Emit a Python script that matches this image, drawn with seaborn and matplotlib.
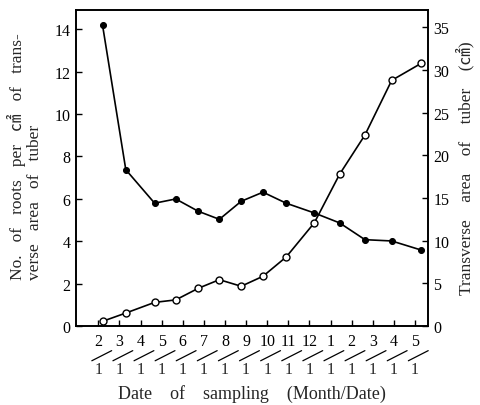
import matplotlib
matplotlib.use("Agg")
import matplotlib.pyplot as plt
import matplotlib.transforms as mtransforms
from matplotlib.lines import Line2D
import seaborn as sns
import pandas as pd

# Month axis runs Feb of the first season through May of the next
tick_months = [2, 3, 4, 5, 6, 7, 8, 9, 10, 11, 12, 1, 2, 3, 4, 5]
tick_day = "1"

# Sampling dates (month/day), in chronological order
sampling_dates = ["2/7", "3/10", "4/21", "5/21", "6/23", "7/23", "8/24",
                  "9/25", "10/28", "12/8", "1/14", "2/20", "3/28", "5/10"]

# No. of roots per cm2 of transverse area (left axis, filled circles)
roots_per_cm2 = [14.17, 7.37, 5.79, 5.99, 5.41, 5.03, 5.88,
                 6.31, 5.79, 5.33, 4.86, 4.07, 4.01, 3.58]

# Transverse area of tuber, cm2 (right axis, open circles)
transverse_area = [0.55, 1.52, 2.77, 3.06, 4.42, 5.43, 4.66,
                   5.83, 8.09, 12.1, 17.8, 22.4, 28.8, 30.8]


def date_positions(dates, months):
    """Place each m/d date on the month axis, walking forward in time."""
    pos, start = [], 0
    for d in dates:
        m, day = (int(v) for v in d.split("/"))
        idx = months.index(m, start)
        start = idx
        pos.append(idx + (day - 1) / 30.0)
    return pos


df = pd.DataFrame({
    "pos": date_positions(sampling_dates, tick_months),
    "roots": roots_per_cm2,
    "area": transverse_area,
})

sns.set_style("ticks")
plt.rcParams["font.family"] = ["Liberation Serif", "Noto Sans CJK JP"]
plt.rcParams["font.size"] = 11

fig = plt.figure(figsize=(4.8, 4.06), dpi=100)
ax = fig.add_axes([76 / 480, 1 - 327 / 406, (428 - 76) / 480, (327 - 11) / 406])
ax2 = ax.twinx()

sns.lineplot(data=df, x="pos", y="roots", ax=ax, color="black", lw=1.2,
             marker="o", markersize=4.3, markerfacecolor="black",
             markeredgecolor="black")
sns.lineplot(data=df, x="pos", y="area", ax=ax2, color="black", lw=1.2,
             marker="o", markersize=5, markerfacecolor="white",
             markeredgecolor="black", markeredgewidth=1.0)

ax.set_xlim(-1.06, 15.62)
ax.set_ylim(0, 14.9)
ax2.set_ylim(0, 37.05)

ax.set_yticks(range(0, 15, 2))
ax2.set_yticks(range(0, 36, 5))
ax.set_xticks(range(len(tick_months)))
ax.set_xticklabels([str(m) for m in tick_months])

for a in (ax, ax2):
    for s in a.spines.values():
        s.set_linewidth(1.2)
        s.set_color("black")
    a.set_xlabel("")
    a.set_ylabel("")

ax.tick_params(axis="y", direction="in", length=4, width=1, pad=4,
               labelsize=11.5, colors="black")
ax.tick_params(axis="x", direction="in", length=4, width=1, pad=5,
               labelsize=11.5, colors="black")
ax2.tick_params(axis="y", direction="in", length=4, width=1, pad=4,
                labelsize=11.5, colors="black")

# Month/date separator slash and day number under each month tick
trans = mtransforms.blended_transform_factory(ax.transData, ax.transAxes)
for i in range(len(tick_months)):
    ax.add_line(Line2D([i - 0.31, i + 0.63], [-0.11, -0.078],
                       transform=trans, color="black", lw=0.9,
                       clip_on=False))
    ax.text(i, -0.137, tick_day, transform=trans, ha="center", va="center",
            fontsize=11.5)

fig.text(252 / 480, 1 - 394 / 406, "Date    of    sampling    (Month/Date)",
         ha="center", va="center", fontsize=13)
fig.text(25 / 480, 1 - 157 / 406,
         "No.   of   roots   per   ㎠   of   trans-\nverse   area   of   tuber",
         rotation=90, ha="center", va="center", fontsize=12.5,
         linespacing=1.15, multialignment="left")
fig.text(465 / 480, 1 - 168 / 406,
         "Transverse    area    of    tuber    (㎠)",
         rotation=90, ha="center", va="center", fontsize=12.5)

fig.savefig("out.png", dpi=100)
